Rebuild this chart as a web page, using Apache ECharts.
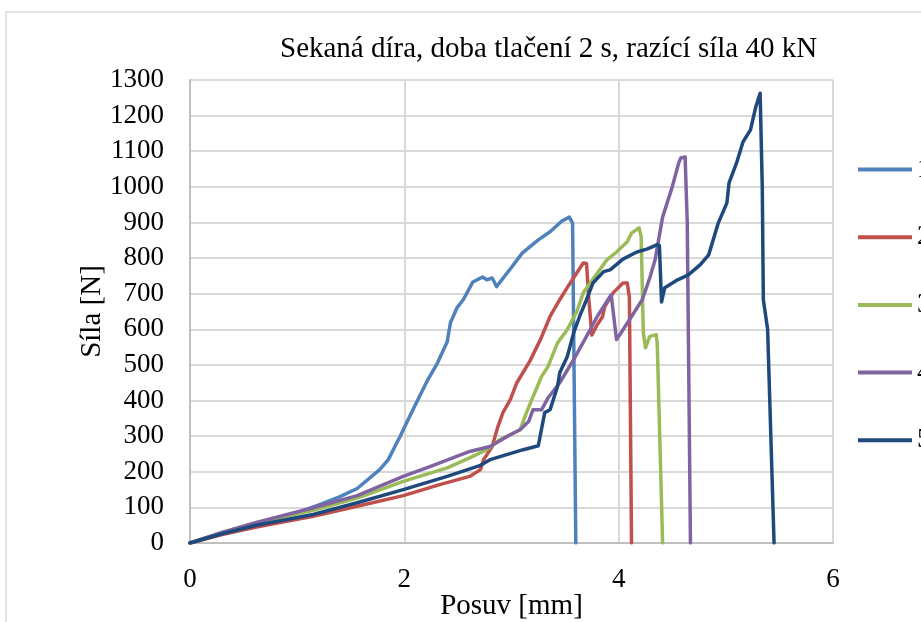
<!DOCTYPE html>
<html>
<head>
<meta charset="utf-8">
<script src="https://cdn.jsdelivr.net/npm/echarts@6/dist/echarts.min.js"></script>
<style>
  html, body { margin: 0; padding: 0; background: #fff; }
  #chart { width: 921px; height: 622px; }
</style>
</head>
<body>
<div id="chart"></div>
<script>
// Posuv [mm] / Síla [N] pairs
const mereni1 = [
  [0, 0], [0.3, 27], [0.62, 55], [1.0, 85], [1.21, 108], [1.4, 130], [1.56, 153],
  [1.77, 206], [1.85, 234], [1.96, 299], [2.08, 374], [2.22, 459], [2.31, 506],
  [2.40, 565], [2.43, 618], [2.49, 660], [2.55, 683], [2.64, 733], [2.73, 747],
  [2.77, 739], [2.82, 744], [2.86, 720], [2.99, 770], [3.10, 814], [3.25, 851],
  [3.36, 874], [3.47, 904], [3.54, 915], [3.57, 898], [3.58, 600], [3.60, 0]
];
const mereni2 = [
  [0, 0], [0.3, 24], [0.62, 45], [1.15, 75], [1.56, 103], [1.99, 133], [2.33, 164],
  [2.61, 187], [2.71, 206], [2.74, 234], [2.82, 271], [2.87, 324], [2.92, 366],
  [2.99, 403], [3.05, 450], [3.17, 510], [3.27, 571], [3.36, 636], [3.45, 683],
  [3.52, 717], [3.61, 759], [3.67, 786], [3.70, 785], [3.72, 690], [3.75, 584],
  [3.80, 613], [3.85, 636], [3.87, 664], [3.95, 703], [4.04, 730], [4.08, 730],
  [4.10, 690], [4.12, 0]
];
const mereni3 = [
  [0, 0], [0.3, 30], [0.62, 57], [1.15, 92], [1.56, 126], [1.99, 173], [2.40, 211],
  [2.61, 239], [2.77, 262], [2.89, 290], [3.08, 318], [3.14, 366], [3.19, 403],
  [3.28, 467], [3.34, 495], [3.43, 562], [3.52, 599], [3.61, 650], [3.67, 703],
  [3.89, 795], [3.98, 817], [4.08, 846], [4.12, 870], [4.19, 885], [4.21, 860],
  [4.23, 590], [4.25, 548], [4.29, 580], [4.35, 585], [4.36, 560], [4.41, 0]
];
const mereni4 = [
  [0, 0], [0.3, 30], [0.62, 58], [1.15, 99], [1.56, 133], [1.99, 187], [2.27, 218],
  [2.61, 257], [2.80, 271], [2.96, 299], [3.08, 318], [3.16, 341], [3.20, 374],
  [3.28, 374], [3.34, 407], [3.45, 450], [3.58, 515], [3.70, 580], [3.80, 636],
  [3.89, 678], [3.93, 697], [3.98, 571], [4.03, 594], [4.12, 636], [4.22, 683],
  [4.29, 744], [4.34, 795], [4.41, 915], [4.50, 1000], [4.56, 1067], [4.58, 1081],
  [4.62, 1084], [4.64, 900], [4.67, 0]
];
const mereni5 = [
  [0, 0], [0.3, 26], [0.62, 50], [1.15, 80], [1.56, 113], [1.99, 150], [2.40, 187],
  [2.71, 218], [2.80, 234], [3.11, 262], [3.25, 273], [3.31, 366], [3.36, 374],
  [3.43, 440], [3.45, 478], [3.52, 523], [3.58, 590], [3.64, 640], [3.70, 683],
  [3.76, 730], [3.86, 762], [3.92, 767], [4.04, 797], [4.17, 817], [4.27, 826],
  [4.36, 838], [4.38, 835], [4.40, 677], [4.43, 717], [4.55, 739], [4.65, 753],
  [4.76, 781], [4.84, 809], [4.93, 899], [5.01, 955], [5.03, 1011], [5.10, 1067],
  [5.16, 1126], [5.23, 1160], [5.28, 1225], [5.32, 1263], [5.34, 1000], [5.35, 683],
  [5.39, 600], [5.45, 0]
];
const nazvy = ['1', '2', '3', '4', '5'];
const barvy = ['#4f81bd', '#c0504d', '#9bbb59', '#8064a2', '#1f497d'];

const font = 'Liberation Serif';
const chart = echarts.init(document.getElementById('chart'));

const series = [mereni1, mereni2, mereni3, mereni4, mereni5].map((d, i) => ({
  name: nazvy[i],
  type: 'line',
  data: d,
  showSymbol: false,
  symbol: 'none',
  lineStyle: { width: 3.5, color: barvy[i], cap: 'round', join: 'round' },
  itemStyle: { color: barvy[i] }
}));

chart.setOption({
  animation: false,
  title: {
    text: 'Sekaná díra, doba tlačení 2 s, razící síla 40 kN',
    left: 275,
    top: 30,
    textStyle: { fontFamily: font, fontSize: 29, fontWeight: 'normal', color: '#000' }
  },
  graphic: [{
    type: 'rect',
    shape: { x: 6, y: 12, width: 940, height: 640 },
    style: { fill: 'none', stroke: '#d9d9d9', lineWidth: 1.5 },
    silent: true
  }],
  legend: {
    orient: 'vertical',
    left: 853,
    top: 151,
    icon: 'rect',
    itemWidth: 54,
    itemHeight: 4,
    itemGap: 40.7,
    data: nazvy,
    textStyle: { fontFamily: font, fontSize: 27, color: '#000', lineHeight: 26 }
  },
  grid: { left: 190, right: 88, top: 80, bottom: 79, containLabel: false, outerBoundsMode: 'none' },
  xAxis: {
    type: 'value',
    min: 0, max: 6, interval: 2,
    name: 'Posuv [mm]',
    nameLocation: 'middle',
    nameGap: 49,
    nameMoveOverlap: false,
    nameTextStyle: { fontFamily: font, fontSize: 29, color: '#000' },
    axisLine: { lineStyle: { color: '#bfbfbf', width: 2 } },
    axisTick: { show: false },
    axisLabel: { fontFamily: font, fontSize: 27, color: '#000', margin: 23 },
    splitLine: { lineStyle: { color: '#d9d9d9', width: 2 } }
  },
  yAxis: {
    type: 'value',
    min: 0, max: 1300, interval: 100,
    name: 'Síla [N]',
    nameLocation: 'middle',
    nameGap: 83,
    nameMoveOverlap: false,
    nameTextStyle: { fontFamily: font, fontSize: 29, color: '#000' },
    axisLine: { show: true, lineStyle: { color: '#bfbfbf', width: 2 } },
    axisTick: { show: false },
    axisLabel: {
      fontFamily: font, fontSize: 27, color: '#000', margin: 26,
      formatter: v => String(v)
    },
    splitLine: { lineStyle: { color: '#d9d9d9', width: 2 } }
  },
  series: series
});
</script>
</body>
</html>
